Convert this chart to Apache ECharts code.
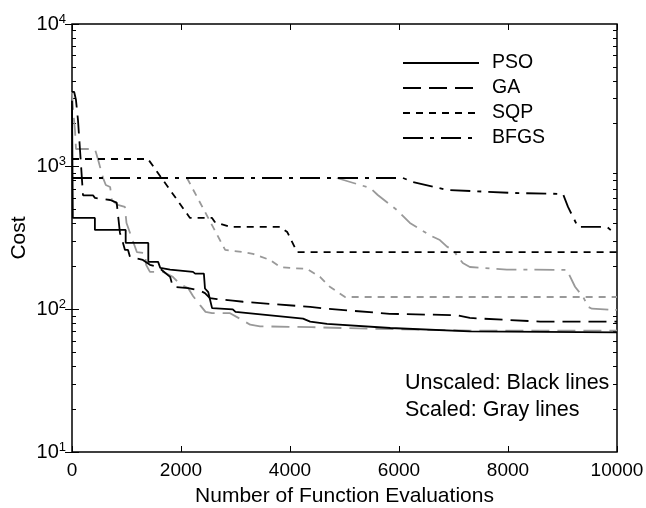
<!DOCTYPE html>
<html>
<head>
<meta charset="utf-8">
<script src="https://cdn.jsdelivr.net/npm/echarts@6/dist/echarts.min.js"></script>
<style>
  html, body { margin: 0; padding: 0; background: #fff; }
  #main { width: 646px; height: 508px; }
</style>
</head>
<body>
<div id="main"></div>
<script>
// unscaled runs (black)
const psoX = [0, 15, 420, 420, 985, 985, 1400, 1400, 1580, 1620, 1800, 2220, 2260, 2420, 2440, 2500, 2570, 2950, 3000, 4240, 4370, 4680, 5840, 7300, 10000];
const psoY = [2900, 437, 437, 360, 360, 292, 292, 215, 215, 195, 190, 183, 178, 178, 140, 132, 102, 100, 96, 86, 82, 79, 74, 70, 69];

const gaX = [0, 40, 73, 110, 147, 202, 385, 420, 700, 820, 880, 920, 972, 1028, 1064, 1300, 1430, 1580, 1800, 1850, 2130, 2350, 2440, 2530, 2660, 2950, 3140, 3400, 4370, 4680, 5830, 7060, 7300, 8590, 10000];
const gaY = [3340, 3340, 2930, 2120, 1310, 630, 630, 604, 584, 560, 343, 306, 261, 261, 233, 222, 205, 198, 169, 144, 141, 135, 130, 120, 118, 115, 113, 111, 104, 101, 93, 91, 87, 82, 82];

const sqpX = [0, 1394, 2165, 2570, 2620, 2900, 3820, 3950, 4130, 10000];
const sqpY = [1132, 1132, 437, 437, 410, 378, 378, 348, 252, 252];

const bfgsX = [0, 6073, 6257, 6881, 8092, 9009, 9101, 9284, 9817, 9927, 10000];
const bfgsY = [833, 833, 781, 687, 654, 644, 522, 378, 378, 348, 345];

// scaled runs (gray)
const gaSX = [0, 20, 55, 73, 420, 470, 570, 620, 700, 730, 840, 970, 1000, 1190, 1340, 1360, 1430, 1670, 1850, 1980, 2130, 2220, 2350, 2450, 2570, 2900, 3080, 3270, 3450, 4400, 5500, 7300, 10000];
const gaSY = [3340, 2500, 1800, 1330, 1330, 1150, 833, 744, 720, 584, 539, 522, 403, 252, 248, 205, 183, 183, 169, 150, 141, 124, 107, 96, 94, 94, 86, 78, 76, 75, 73, 71, 71];

const sqpSX = [2110, 2810, 3140, 3320, 3630, 3820, 4000, 4310, 4550, 4730, 5010, 10000];
const sqpSY = [833, 261, 252, 245, 222, 198, 195, 192, 169, 144, 122, 122];

const bfgsSX = [4860, 5470, 5610, 5960, 6200, 6570, 6750, 6880, 6990, 7170, 7300, 7980, 9080, 9230, 9380, 9470, 9540, 10000];
const bfgsSY = [833, 709, 633, 497, 403, 330, 306, 275, 261, 211, 198, 190, 189, 144, 122, 104, 101, 99];

// axis ticks
const yMajor = [10, 100, 1000, 10000];
const yMinor = [20, 30, 40, 50, 60, 70, 80, 90, 200, 300, 400, 500, 600, 700, 800, 900, 2000, 3000, 4000, 5000, 6000, 7000, 8000, 9000];

const FONT = "Liberation Sans";
const BLACK = "#000";
const GRAY = "#999";

function zip(xs, ys) {
  return xs.map(function (x, i) { return [x, ys[i]]; });
}

function line(name, xs, ys, color, dash, z) {
  return {
    name: name,
    type: "line",
    symbol: "none",
    z: z,
    data: zip(xs, ys),
    lineStyle: { color: color, width: 1.8, type: dash },
    itemStyle: { color: color },
  };
}

function logAxis(pos, ticks, len, labels) {
  return {
    type: "log",
    logBase: 10,
    min: 10,
    max: 10000,
    position: pos,
    axisLine: { show: false },
    splitLine: { show: false },
    axisTick: { inside: true, length: len, customValues: ticks, lineStyle: { color: BLACK, width: 1 } },
    axisLabel: labels
      ? {
          customValues: yMajor,
          color: BLACK,
          margin: 6,
          fontFamily: FONT,
          fontSize: 20,
          formatter: function (v) {
            return "10{sup|" + Math.round(Math.log10(v)) + "}";
          },
          rich: { sup: { fontSize: 13, fontFamily: FONT, color: BLACK, verticalAlign: "top", padding: [0, 0, 10, 0] } },
        }
      : { show: false },
  };
}

let chart = echarts.init(document.getElementById("main"));

let option = {
  animation: false,
  backgroundColor: "#fff",
  grid: {
    left: 72, right: 29, top: 24, bottom: 56,
    outerBoundsMode: "none",
    show: true, borderColor: BLACK, borderWidth: 1.5,
  },
  legend: {
    orient: "vertical",
    left: 397,
    top: 48,
    itemWidth: 76,
    itemHeight: 14,
    itemGap: 5,
    data: ["PSO", "GA", "SQP", "BFGS"],
    itemStyle: { opacity: 0 },
    textStyle: { fontFamily: FONT, fontSize: 19.5, color: BLACK, padding: [0, 0, 0, 8] },
  },
  xAxis: [
    {
      type: "value",
      min: 0,
      max: 10000,
      interval: 2000,
      name: "Number of Function Evaluations",
      nameLocation: "middle",
      nameGap: 34,
      nameTextStyle: { fontFamily: FONT, fontSize: 21, color: BLACK },
      axisLine: { show: false },
      splitLine: { show: false },
      axisTick: { inside: true, length: 6, lineStyle: { color: BLACK } },
      axisLabel: {
        color: BLACK,
        fontFamily: FONT,
        fontSize: 19,
        margin: 9,
        formatter: function (v) { return String(v); },
      },
    },
    {
      type: "value",
      position: "top",
      min: 0,
      max: 10000,
      interval: 2000,
      axisLine: { show: false },
      splitLine: { show: false },
      axisTick: { inside: true, length: 6, lineStyle: { color: BLACK } },
      axisLabel: { show: false },
    },
  ],
  yAxis: [
    Object.assign(logAxis("left", yMajor, 7, true), {
      name: "Cost",
      nameLocation: "middle",
      nameGap: 42,
      nameMoveOverlap: false,
      nameTextStyle: { fontFamily: FONT, fontSize: 21, color: BLACK },
    }),
    logAxis("right", yMajor, 7, false),
    logAxis("left", yMinor, 4, false),
    logAxis("right", yMinor, 4, false),
  ],
  graphic: [
    { type: "text", left: 405, top: 372, style: { text: "Unscaled: Black lines", fontFamily: FONT, fontSize: 21.5, fill: BLACK } },
    { type: "text", left: 405, top: 399, style: { text: "Scaled: Gray lines", fontFamily: FONT, fontSize: 21.5, fill: BLACK } },
  ],
  series: [
    line("GA scaled", gaSX, gaSY, GRAY, [18, 8], 2),
    line("SQP scaled", sqpSX, sqpSY, GRAY, [7, 6], 2),
    line("BFGS scaled", bfgsSX, bfgsSY, GRAY, [20, 7, 4, 7], 2),
    line("PSO", psoX, psoY, BLACK, "solid", 3),
    line("GA", gaX, gaY, BLACK, [18, 8], 3),
    line("SQP", sqpX, sqpY, BLACK, [7, 6], 3),
    line("BFGS", bfgsX, bfgsY, BLACK, [20, 7, 4, 7], 3),
  ],
};

chart.setOption(option);
</script>
</body>
</html>
